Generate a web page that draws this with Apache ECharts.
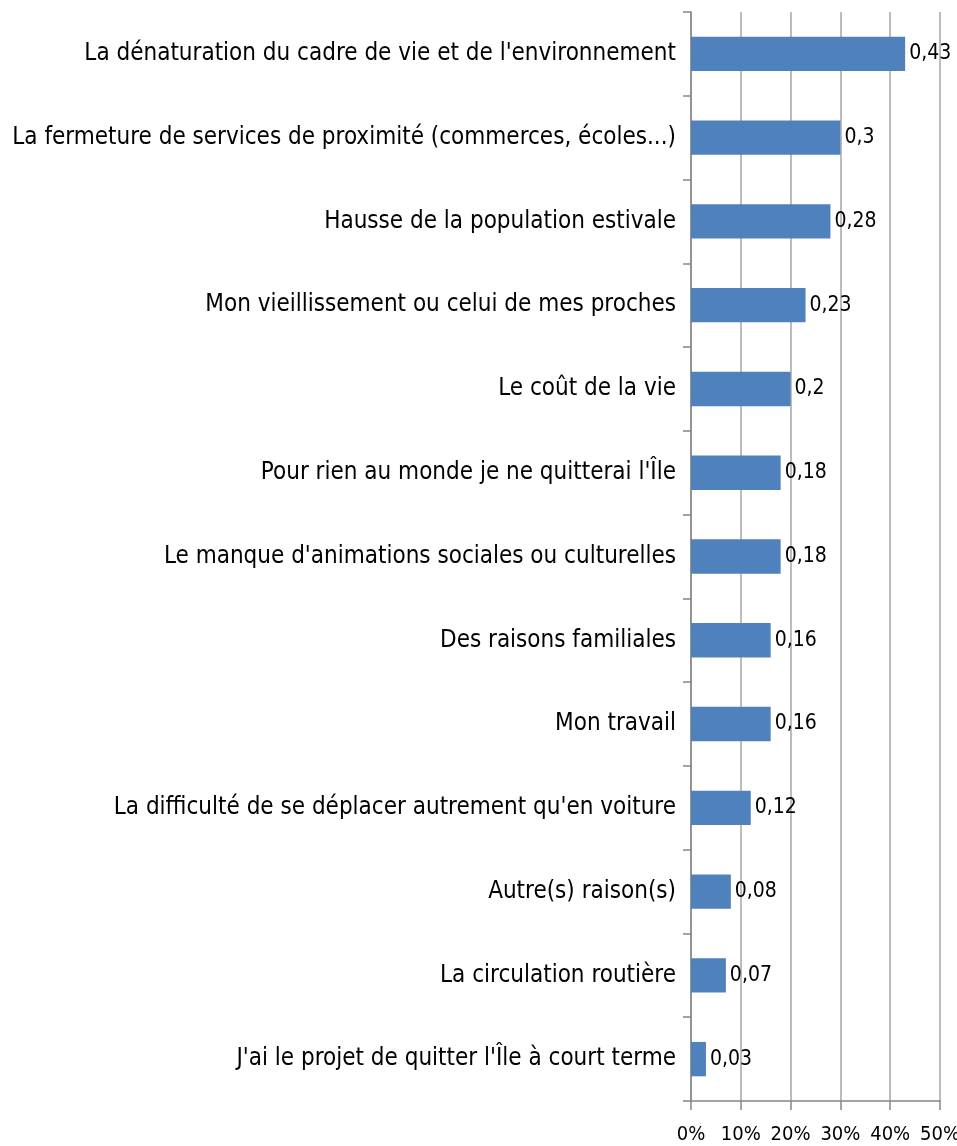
<!DOCTYPE html>
<html style="height: 100%">

<head>
    <meta charset="utf-8">
</head>

<body style="height: 100%; margin: 0; background: #fff">
    <div id="container" style="width: 957px; height: 1146px"></div>
    <script type="text/javascript" src="https://cdn.jsdelivr.net/npm/echarts@6/dist/echarts.min.js"></script>

    <script type="text/javascript">
        var categories = [
            "La dénaturation du cadre de vie et de l'environnement",
            "La fermeture de services de proximité (commerces, écoles...)",
            "Hausse de la population estivale",
            "Mon vieillissement ou celui de mes proches",
            "Le coût de la vie",
            "Pour rien au monde je ne quitterai l'Île",
            "Le manque d'animations sociales ou culturelles",
            "Des raisons familiales",
            "Mon travail",
            "La difficulté de se déplacer autrement qu'en voiture",
            "Autre(s) raison(s)",
            "La circulation routière",
            "J'ai le projet de quitter l'Île à court terme"
        ];
        var values = [0.43, 0.3, 0.28, 0.23, 0.2, 0.18, 0.18, 0.16, 0.16, 0.12, 0.08, 0.07, 0.03];
        var xTicks = [0, 0.1, 0.2, 0.3, 0.4, 0.5];

        var dom = document.getElementById("container");
        var myChart = echarts.init(dom);
        var font = '"DejaVu Sans Condensed", "Liberation Sans Narrow", sans-serif';

        var option = {
            animation: false,
            grid: {
                left: 691,
                right: 17,
                top: 12,
                bottom: 45,
                containLabel: false,
                outerBoundsMode: 'none'
            },
            xAxis: {
                type: 'value',
                min: xTicks[0],
                max: xTicks[xTicks.length - 1],
                interval: 0.1,
                axisLine: { show: true, lineStyle: { color: '#868686', width: 1.5 } },
                axisTick: { show: true, length: 9, lineStyle: { color: '#868686', width: 1.5 } },
                splitLine: { show: true, lineStyle: { color: '#a6a6a6', width: 1.5 } },
                axisLabel: {
                    margin: 24,
                    fontFamily: font,
                    fontSize: 20,
                    color: '#000',
                    hideOverlap: false,
                    showMinLabel: true,
                    showMaxLabel: true,
                    formatter: function (v) {
                        return Math.round(v * 100) + '%';
                    }
                }
            },
            yAxis: {
                type: 'category',
                inverse: true,
                data: categories,
                axisLine: { show: true, lineStyle: { color: '#868686', width: 1.5 } },
                axisTick: { show: true, length: 8, alignWithLabel: false, lineStyle: { color: '#868686', width: 1.5 } },
                axisLabel: {
                    margin: 15,
                    interval: 0,
                    fontFamily: font,
                    fontSize: 24,
                    color: '#000'
                }
            },
            series: [{
                type: 'bar',
                data: values,
                barCategoryGap: '59%',
                itemStyle: { color: '#4f81bd' },
                label: {
                    show: true,
                    position: 'right',
                    distance: 4,
                    fontFamily: font,
                    fontSize: 21,
                    color: '#000',
                    formatter: function (p) {
                        return String(p.value).replace('.', ',');
                    }
                }
            }]
        };

        myChart.setOption(option);
    </script>
</body>

</html>
